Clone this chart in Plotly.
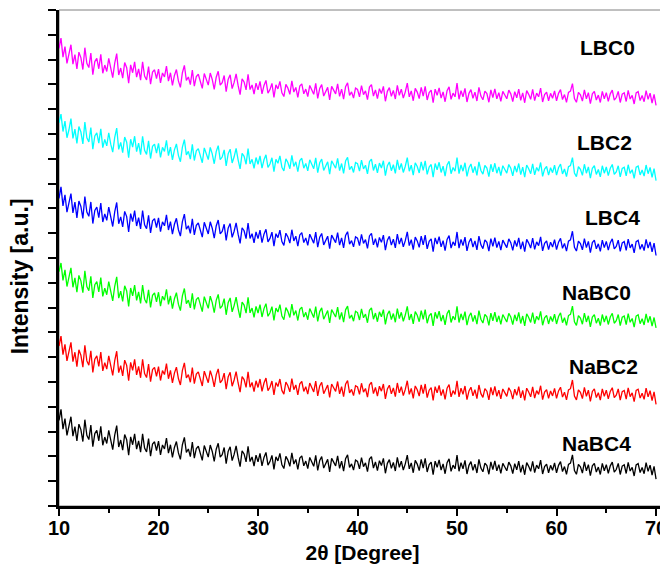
import numpy as np
import plotly.graph_objects as go

# 2-theta grid (degrees), 0.2 degree step
two_theta = np.round(np.arange(10.0, 70.0001, 0.2), 1)

LBC0 = [
    18.45, 18.87, 18.10, 18.52, 17.85, 18.17, 18.60, 17.82, 18.20, 17.62, 18.30, 18.08, 17.60, 18.48, 17.85, 17.68, 18.26, 17.39, 17.92, 18.05, 17.63, 18.21, 17.45, 17.78, 17.52,
    18.05, 17.59, 17.27, 17.86, 18.24, 17.38, 17.66, 17.25, 17.88, 17.67, 17.05, 17.79, 17.47, 17.91, 17.29, 17.63, 17.17, 17.91, 17.34, 17.18, 17.72, 17.01, 17.50, 17.59, 17.23,
    17.62, 17.06, 17.46, 17.30, 17.74, 17.13, 17.47, 16.96, 17.36, 17.60, 17.14, 16.88, 17.47, 17.77, 17.16, 17.30, 16.99, 17.58, 16.93, 17.32, 17.41, 17.10, 16.84, 17.44, 17.18,
    16.97, 17.46, 17.20, 16.80, 17.29, 17.53, 16.97, 17.07, 17.36, 16.71, 17.20, 17.39, 16.83, 17.08, 17.42, 16.96, 16.59, 17.22, 17.10, 16.78, 17.41, 16.79, 16.98, 16.61, 17.05,
    16.78, 17.12, 16.62, 16.96, 17.16, 16.65, 16.79, 17.04, 16.48, 16.98, 16.82, 17.12, 16.66, 16.51, 17.00, 16.85, 16.60, 17.14, 16.69, 16.88, 16.48, 16.93, 17.02, 16.62, 16.81,
    16.51, 16.96, 16.80, 16.60, 17.04, 16.44, 16.84, 16.99, 16.53, 16.68, 16.88, 16.38, 16.92, 16.77, 16.62, 17.02, 16.52, 16.81, 16.41, 16.91, 17.06, 16.56, 16.70, 16.45, 16.85,
    16.80, 16.50, 16.95, 16.59, 16.74, 16.39, 16.89, 16.99, 16.53, 16.78, 16.43, 16.83, 16.63, 16.92, 16.32, 16.72, 16.87, 16.52, 16.76, 16.41, 16.96, 16.56, 16.81, 16.45, 16.70,
    17.05, 16.50, 16.74, 16.34, 16.84, 16.69, 16.43, 16.88, 16.53, 16.92, 16.37, 16.67, 16.77, 16.26, 16.81, 16.56, 16.86, 16.45, 16.70, 16.30, 16.75, 16.90, 16.40, 16.65, 16.50,
    17.05, 16.40, 16.75, 16.50, 16.84, 16.29, 16.64, 16.79, 16.44, 16.69, 16.33, 16.88, 16.53, 16.38, 16.73, 16.63, 16.28, 16.78, 16.47, 16.82, 16.42, 16.67, 16.32, 16.72, 16.57,
    16.42, 16.77, 16.62, 16.31, 16.71, 16.46, 16.81, 16.36, 16.66, 16.26, 16.75, 16.60, 16.40, 16.80, 16.35, 16.65, 16.50, 16.85, 16.29, 16.59, 16.69, 16.34, 16.64, 16.44, 16.74,
    16.34, 16.64, 16.79, 16.39, 16.59, 16.28, 16.68, 16.73, 17.03, 16.43, 16.28, 16.68, 16.58, 16.33, 16.78, 16.42, 16.67, 16.22, 16.62, 16.72, 16.37, 16.57, 16.27, 16.72, 16.42,
    16.67, 16.32, 16.62, 16.77, 16.37, 16.47, 16.72, 16.27, 16.61, 16.66, 16.31, 16.76, 16.41, 16.56, 16.21, 16.66, 16.71, 16.35, 16.55, 16.30, 16.75, 16.40, 16.65, 16.25, 16.60,
    16.15,
]

LBC2 = [
    15.45, 15.80, 15.10, 15.52, 14.85, 15.17, 15.62, 14.82, 15.20, 14.62, 15.30, 15.08, 14.60, 15.48, 14.85, 14.68, 15.26, 14.39, 14.92, 15.05, 14.63, 15.21, 14.45, 14.78, 14.52,
    15.05, 14.59, 14.27, 14.86, 15.24, 14.38, 14.66, 14.25, 14.88, 14.67, 14.05, 14.79, 14.47, 14.91, 14.29, 14.63, 14.17, 14.91, 14.34, 14.18, 14.72, 14.01, 14.50, 14.59, 14.23,
    14.62, 14.06, 14.46, 14.30, 14.74, 14.13, 14.47, 13.96, 14.36, 14.60, 14.14, 13.88, 14.47, 14.77, 14.16, 14.30, 13.99, 14.58, 13.93, 14.32, 14.41, 14.10, 13.84, 14.44, 14.18,
    13.97, 14.46, 14.20, 13.80, 14.29, 14.53, 13.97, 14.07, 14.36, 13.71, 14.20, 14.39, 13.83, 14.08, 14.42, 13.96, 13.59, 14.22, 14.10, 13.78, 14.41, 13.79, 13.98, 13.61, 14.05,
    13.78, 14.12, 13.62, 13.96, 14.16, 13.65, 13.79, 14.04, 13.48, 13.98, 13.82, 14.12, 13.66, 13.51, 14.00, 13.85, 13.60, 14.14, 13.69, 13.88, 13.48, 13.93, 14.02, 13.62, 13.81,
    13.51, 13.96, 13.80, 13.60, 14.04, 13.44, 13.84, 13.99, 13.53, 13.68, 13.88, 13.38, 13.92, 13.77, 13.62, 14.02, 13.52, 13.81, 13.41, 13.91, 14.06, 13.56, 13.70, 13.45, 13.85,
    13.80, 13.50, 13.95, 13.59, 13.74, 13.39, 13.89, 13.99, 13.53, 13.78, 13.43, 13.83, 13.63, 13.92, 13.32, 13.72, 13.87, 13.52, 13.76, 13.41, 13.96, 13.56, 13.81, 13.45, 13.70,
    14.05, 13.50, 13.74, 13.34, 13.84, 13.69, 13.43, 13.88, 13.53, 13.92, 13.37, 13.67, 13.77, 13.26, 13.81, 13.56, 13.86, 13.45, 13.70, 13.30, 13.75, 13.90, 13.40, 13.65, 13.50,
    14.05, 13.40, 13.75, 13.50, 13.84, 13.29, 13.64, 13.79, 13.44, 13.69, 13.33, 13.88, 13.53, 13.38, 13.73, 13.63, 13.28, 13.78, 13.47, 13.82, 13.42, 13.67, 13.32, 13.72, 13.57,
    13.42, 13.77, 13.62, 13.31, 13.71, 13.46, 13.81, 13.36, 13.66, 13.26, 13.75, 13.60, 13.40, 13.80, 13.35, 13.65, 13.50, 13.85, 13.29, 13.59, 13.69, 13.34, 13.64, 13.44, 13.74,
    13.34, 13.64, 13.79, 13.39, 13.59, 13.28, 13.68, 13.73, 14.05, 13.43, 13.28, 13.68, 13.58, 13.33, 13.78, 13.42, 13.67, 13.22, 13.62, 13.72, 13.37, 13.57, 13.27, 13.72, 13.42,
    13.67, 13.32, 13.62, 13.77, 13.37, 13.47, 13.72, 13.27, 13.61, 13.66, 13.31, 13.76, 13.41, 13.56, 13.21, 13.66, 13.71, 13.35, 13.55, 13.30, 13.75, 13.40, 13.65, 13.25, 13.60,
    13.12,
]

LBC4 = [
    12.40, 12.87, 12.10, 12.55, 11.85, 12.17, 12.60, 11.82, 12.25, 11.62, 12.30, 12.08, 11.60, 12.48, 11.85, 11.68, 12.26, 11.39, 11.92, 12.05, 11.63, 12.21, 11.45, 11.78, 11.52,
    12.05, 11.59, 11.27, 11.86, 12.24, 11.38, 11.66, 11.25, 11.88, 11.67, 11.05, 11.79, 11.47, 11.91, 11.29, 11.63, 11.17, 11.91, 11.34, 11.18, 11.72, 11.01, 11.50, 11.59, 11.23,
    11.62, 11.06, 11.46, 11.30, 11.74, 11.13, 11.47, 10.96, 11.36, 11.60, 11.14, 10.88, 11.47, 11.77, 11.16, 11.30, 10.99, 11.58, 10.93, 11.32, 11.41, 11.10, 10.84, 11.44, 11.18,
    10.97, 11.46, 11.20, 10.80, 11.29, 11.53, 10.97, 11.07, 11.36, 10.71, 11.20, 11.39, 10.83, 11.08, 11.42, 10.96, 10.59, 11.22, 11.10, 10.78, 11.41, 10.79, 10.98, 10.61, 11.05,
    10.78, 11.12, 10.62, 10.96, 11.16, 10.65, 10.79, 11.04, 10.48, 10.98, 10.82, 11.12, 10.66, 10.51, 11.00, 10.85, 10.60, 11.14, 10.69, 10.88, 10.48, 10.93, 11.02, 10.62, 10.81,
    10.51, 10.96, 10.80, 10.60, 11.04, 10.44, 10.84, 10.99, 10.53, 10.68, 10.88, 10.38, 10.92, 10.77, 10.62, 11.02, 10.52, 10.81, 10.41, 10.91, 11.06, 10.56, 10.70, 10.45, 10.85,
    10.80, 10.50, 10.95, 10.59, 10.74, 10.39, 10.89, 10.99, 10.53, 10.78, 10.43, 10.83, 10.63, 10.92, 10.32, 10.72, 10.87, 10.52, 10.76, 10.41, 10.96, 10.56, 10.81, 10.45, 10.70,
    11.05, 10.50, 10.74, 10.34, 10.84, 10.69, 10.43, 10.88, 10.53, 10.92, 10.37, 10.67, 10.77, 10.26, 10.81, 10.56, 10.86, 10.45, 10.70, 10.30, 10.75, 10.90, 10.40, 10.65, 10.50,
    11.05, 10.40, 10.75, 10.50, 10.84, 10.29, 10.64, 10.79, 10.44, 10.69, 10.33, 10.88, 10.53, 10.38, 10.73, 10.63, 10.28, 10.78, 10.47, 10.82, 10.42, 10.67, 10.32, 10.72, 10.57,
    10.42, 10.77, 10.62, 10.31, 10.71, 10.46, 10.81, 10.36, 10.66, 10.26, 10.75, 10.60, 10.40, 10.80, 10.35, 10.65, 10.50, 10.85, 10.29, 10.59, 10.69, 10.34, 10.64, 10.44, 10.74,
    10.34, 10.64, 10.79, 10.39, 10.59, 10.28, 10.68, 10.73, 11.08, 10.43, 10.28, 10.68, 10.58, 10.33, 10.78, 10.42, 10.67, 10.22, 10.62, 10.72, 10.37, 10.57, 10.27, 10.72, 10.42,
    10.67, 10.32, 10.62, 10.77, 10.37, 10.47, 10.72, 10.27, 10.61, 10.66, 10.31, 10.76, 10.41, 10.56, 10.21, 10.66, 10.71, 10.35, 10.55, 10.30, 10.75, 10.40, 10.65, 10.25, 10.60,
    10.10,
]

NaBC0 = [
    9.45, 9.80, 9.10, 9.52, 8.85, 9.17, 9.60, 8.82, 9.20, 8.62, 9.30, 9.08, 8.60, 9.48, 8.85, 8.68, 9.26, 8.39, 8.92, 9.05, 8.63, 9.21, 8.45, 8.78, 8.52,
    9.05, 8.59, 8.27, 8.86, 9.24, 8.38, 8.66, 8.25, 8.88, 8.67, 8.05, 8.79, 8.47, 8.91, 8.29, 8.63, 8.17, 8.91, 8.34, 8.18, 8.72, 8.01, 8.50, 8.59, 8.23,
    8.62, 8.06, 8.46, 8.30, 8.74, 8.13, 8.47, 7.96, 8.36, 8.60, 8.14, 7.88, 8.47, 8.77, 8.16, 8.30, 7.99, 8.58, 7.93, 8.32, 8.41, 8.10, 7.84, 8.44, 8.18,
    7.97, 8.46, 8.20, 7.80, 8.29, 8.53, 7.97, 8.07, 8.36, 7.71, 8.20, 8.39, 7.83, 8.08, 8.42, 7.96, 7.59, 8.22, 8.10, 7.78, 8.41, 7.79, 7.98, 7.61, 8.05,
    7.78, 8.12, 7.62, 7.96, 8.16, 7.65, 7.79, 8.04, 7.48, 7.98, 7.82, 8.12, 7.66, 7.51, 8.00, 7.85, 7.60, 8.14, 7.69, 7.88, 7.48, 7.93, 8.02, 7.62, 7.81,
    7.51, 7.96, 7.80, 7.60, 8.04, 7.44, 7.84, 7.99, 7.53, 7.68, 7.88, 7.38, 7.92, 7.77, 7.62, 8.02, 7.52, 7.81, 7.41, 7.91, 8.06, 7.56, 7.70, 7.45, 7.85,
    7.80, 7.50, 7.95, 7.59, 7.74, 7.39, 7.89, 7.99, 7.53, 7.78, 7.43, 7.83, 7.63, 7.92, 7.32, 7.72, 7.87, 7.52, 7.76, 7.41, 7.96, 7.56, 7.81, 7.45, 7.70,
    8.05, 7.50, 7.74, 7.34, 7.84, 7.69, 7.43, 7.88, 7.53, 7.92, 7.37, 7.67, 7.77, 7.26, 7.81, 7.56, 7.86, 7.45, 7.70, 7.30, 7.75, 7.90, 7.40, 7.65, 7.50,
    8.05, 7.40, 7.75, 7.50, 7.84, 7.29, 7.64, 7.79, 7.44, 7.69, 7.33, 7.88, 7.53, 7.38, 7.73, 7.63, 7.28, 7.78, 7.47, 7.82, 7.42, 7.67, 7.32, 7.72, 7.57,
    7.42, 7.77, 7.62, 7.31, 7.71, 7.46, 7.81, 7.36, 7.66, 7.26, 7.75, 7.60, 7.40, 7.80, 7.35, 7.65, 7.50, 7.85, 7.29, 7.59, 7.69, 7.34, 7.64, 7.44, 7.74,
    7.34, 7.64, 7.79, 7.39, 7.59, 7.28, 7.68, 7.73, 8.06, 7.43, 7.28, 7.68, 7.58, 7.33, 7.78, 7.42, 7.67, 7.22, 7.62, 7.72, 7.37, 7.57, 7.27, 7.72, 7.42,
    7.67, 7.32, 7.62, 7.77, 7.37, 7.47, 7.72, 7.27, 7.61, 7.66, 7.31, 7.76, 7.41, 7.56, 7.21, 7.66, 7.71, 7.35, 7.55, 7.30, 7.75, 7.40, 7.65, 7.25, 7.60,
    7.18,
]

NaBC2 = [
    6.45, 6.85, 6.10, 6.52, 5.85, 6.17, 6.60, 5.82, 6.20, 5.62, 6.30, 6.08, 5.60, 6.48, 5.85, 5.68, 6.26, 5.39, 5.92, 6.05, 5.63, 6.21, 5.45, 5.78, 5.52,
    6.05, 5.59, 5.27, 5.86, 6.24, 5.38, 5.66, 5.25, 5.88, 5.67, 5.05, 5.79, 5.47, 5.91, 5.29, 5.63, 5.17, 5.91, 5.34, 5.18, 5.72, 5.01, 5.50, 5.59, 5.23,
    5.62, 5.06, 5.46, 5.30, 5.74, 5.13, 5.47, 4.96, 5.36, 5.60, 5.14, 4.88, 5.47, 5.77, 5.16, 5.30, 4.99, 5.58, 4.93, 5.32, 5.41, 5.10, 4.84, 5.44, 5.18,
    4.97, 5.46, 5.20, 4.80, 5.29, 5.53, 4.97, 5.07, 5.36, 4.71, 5.20, 5.39, 4.83, 5.08, 5.42, 4.96, 4.59, 5.22, 5.10, 4.78, 5.41, 4.79, 4.98, 4.61, 5.05,
    4.78, 5.12, 4.62, 4.96, 5.16, 4.65, 4.79, 5.04, 4.48, 4.98, 4.82, 5.12, 4.66, 4.51, 5.00, 4.85, 4.60, 5.14, 4.69, 4.88, 4.48, 4.93, 5.02, 4.62, 4.81,
    4.51, 4.96, 4.80, 4.60, 5.04, 4.44, 4.84, 4.99, 4.53, 4.68, 4.88, 4.38, 4.92, 4.77, 4.62, 5.02, 4.52, 4.81, 4.41, 4.91, 5.06, 4.56, 4.70, 4.45, 4.85,
    4.80, 4.50, 4.95, 4.59, 4.74, 4.39, 4.89, 4.99, 4.53, 4.78, 4.43, 4.83, 4.63, 4.92, 4.32, 4.72, 4.87, 4.52, 4.76, 4.41, 4.96, 4.56, 4.81, 4.45, 4.70,
    5.05, 4.50, 4.74, 4.34, 4.84, 4.69, 4.43, 4.88, 4.53, 4.92, 4.37, 4.67, 4.77, 4.26, 4.81, 4.56, 4.86, 4.45, 4.70, 4.30, 4.75, 4.90, 4.40, 4.65, 4.50,
    5.05, 4.40, 4.75, 4.50, 4.84, 4.29, 4.64, 4.79, 4.44, 4.69, 4.33, 4.88, 4.53, 4.38, 4.73, 4.63, 4.28, 4.78, 4.47, 4.82, 4.42, 4.67, 4.32, 4.72, 4.57,
    4.42, 4.77, 4.62, 4.31, 4.71, 4.46, 4.81, 4.36, 4.66, 4.26, 4.75, 4.60, 4.40, 4.80, 4.35, 4.65, 4.50, 4.85, 4.29, 4.59, 4.69, 4.34, 4.64, 4.44, 4.74,
    4.34, 4.64, 4.79, 4.39, 4.59, 4.28, 4.68, 4.73, 5.08, 4.43, 4.28, 4.68, 4.58, 4.33, 4.78, 4.42, 4.67, 4.22, 4.62, 4.72, 4.37, 4.57, 4.27, 4.72, 4.42,
    4.67, 4.32, 4.62, 4.77, 4.37, 4.47, 4.72, 4.27, 4.61, 4.66, 4.31, 4.76, 4.41, 4.56, 4.21, 4.66, 4.71, 4.35, 4.55, 4.30, 4.75, 4.40, 4.65, 4.25, 4.60,
    4.10,
]

NaBC4 = [
    3.45, 3.90, 3.10, 3.52, 2.85, 3.17, 3.60, 2.82, 3.20, 2.62, 3.30, 3.08, 2.60, 3.48, 2.85, 2.68, 3.26, 2.39, 2.92, 3.05, 2.63, 3.21, 2.45, 2.78, 2.52,
    3.05, 2.59, 2.27, 2.86, 3.24, 2.38, 2.66, 2.25, 2.88, 2.67, 2.05, 2.79, 2.47, 2.91, 2.29, 2.63, 2.17, 2.91, 2.34, 2.18, 2.72, 2.01, 2.50, 2.59, 2.23,
    2.62, 2.06, 2.46, 2.30, 2.74, 2.13, 2.47, 1.96, 2.36, 2.60, 2.14, 1.88, 2.47, 2.77, 2.16, 2.30, 1.99, 2.58, 1.93, 2.32, 2.41, 2.10, 1.84, 2.44, 2.18,
    1.97, 2.46, 2.20, 1.80, 2.29, 2.53, 1.97, 2.07, 2.36, 1.71, 2.20, 2.39, 1.83, 2.08, 2.42, 1.96, 1.59, 2.22, 2.10, 1.78, 2.41, 1.79, 1.98, 1.61, 2.05,
    1.78, 2.12, 1.62, 1.96, 2.16, 1.65, 1.79, 2.04, 1.48, 1.98, 1.82, 2.12, 1.66, 1.51, 2.00, 1.85, 1.60, 2.14, 1.69, 1.88, 1.48, 1.93, 2.02, 1.62, 1.81,
    1.51, 1.96, 1.80, 1.60, 2.04, 1.44, 1.84, 1.99, 1.53, 1.68, 1.88, 1.38, 1.92, 1.77, 1.62, 2.02, 1.52, 1.81, 1.41, 1.91, 2.06, 1.56, 1.70, 1.45, 1.85,
    1.80, 1.50, 1.95, 1.59, 1.74, 1.39, 1.89, 1.99, 1.53, 1.78, 1.43, 1.83, 1.63, 1.92, 1.32, 1.72, 1.87, 1.52, 1.76, 1.41, 1.96, 1.56, 1.81, 1.45, 1.70,
    2.05, 1.50, 1.74, 1.34, 1.84, 1.69, 1.43, 1.88, 1.53, 1.92, 1.37, 1.67, 1.77, 1.26, 1.81, 1.56, 1.86, 1.45, 1.70, 1.30, 1.75, 1.90, 1.40, 1.65, 1.50,
    2.05, 1.40, 1.75, 1.50, 1.84, 1.29, 1.64, 1.79, 1.44, 1.69, 1.33, 1.88, 1.53, 1.38, 1.73, 1.63, 1.28, 1.78, 1.47, 1.82, 1.42, 1.67, 1.32, 1.72, 1.57,
    1.42, 1.77, 1.62, 1.31, 1.71, 1.46, 1.81, 1.36, 1.66, 1.26, 1.75, 1.60, 1.40, 1.80, 1.35, 1.65, 1.50, 1.85, 1.29, 1.59, 1.69, 1.34, 1.64, 1.44, 1.74,
    1.34, 1.64, 1.79, 1.39, 1.59, 1.28, 1.68, 1.73, 2.06, 1.43, 1.28, 1.68, 1.58, 1.33, 1.78, 1.42, 1.67, 1.22, 1.62, 1.72, 1.37, 1.57, 1.27, 1.72, 1.42,
    1.67, 1.32, 1.62, 1.77, 1.37, 1.47, 1.72, 1.27, 1.61, 1.66, 1.31, 1.76, 1.41, 1.56, 1.21, 1.66, 1.71, 1.35, 1.55, 1.30, 1.75, 1.40, 1.65, 1.25, 1.60,
    1.08,
]

series_names = ["LBC0", "LBC2", "LBC4", "NaBC0", "NaBC2", "NaBC4"]
series_values = [LBC0, LBC2, LBC4, NaBC0, NaBC2, NaBC4]
series_colors = ["#FF00FF", "#00FFFF", "#0000FF", "#00FF00", "#FF0000", "#000000"]
label_x = [65.1, 64.8, 65.6, 64.0, 64.7, 64.0]
label_y = [18.48, 14.67, 11.64, 8.61, 5.61, 2.54]

x_ticks = [10, 20, 30, 40, 50, 60, 70]

FONT = "Liberation Sans, Arial, sans-serif"

fig = go.Figure()
for name, vals, col in zip(series_names, series_values, series_colors):
    fig.add_trace(go.Scatter(x=two_theta, y=vals, mode="lines", name=name,
                             line=dict(color=col, width=1.3), showlegend=False))

for name, lx, ly in zip(series_names, label_x, label_y):
    fig.add_annotation(x=lx, y=ly, text="<b>%s</b>" % name, showarrow=False,
                       font=dict(family=FONT, size=21, color="black"),
                       xanchor="center", yanchor="middle")

# y-axis title placed as rotated text left of the axis
fig.add_annotation(xref="paper", yref="paper", x=0, y=0.463, xshift=-39,
                   text="<b>Intensity [a.u.]</b>", textangle=-90, showarrow=False,
                   font=dict(family=FONT, size=23, color="black"),
                   xanchor="center", yanchor="middle")

# gray frame (top/right)
fig.add_shape(type="rect", xref="paper", yref="paper", x0=0, y0=0, x1=1, y1=1,
              line=dict(color="#808080", width=1), layer="below")

xaxis_cfg = dict(
    range=[10, 71], tickvals=x_ticks, ticktext=["<b>%d</b>" % t for t in x_ticks],
    ticks="outside", ticklen=7, tickwidth=1.5, tickcolor="black",
    minor=dict(tickvals=[15, 25, 35, 45, 55, 65], ticks="outside", ticklen=4,
               tickwidth=1.5, tickcolor="black"),
    showline=True, linecolor="black", linewidth=2.5,
    showgrid=False, zeroline=False, automargin=False,
    tickfont=dict(family=FONT, size=20, color="black"),
    title=dict(text="<b>2θ [Degree]</b>", font=dict(family=FONT, size=21, color="black"),
               standoff=8),
)

# The page body adds an 8px offset, so the figure is sized 8px smaller to fill the window.
fig.update_layout(
    width=660, height=556,
    margin=dict(l=51, r=2, t=2, b=58),
    paper_bgcolor="white", plot_bgcolor="white",
    font=dict(family=FONT, color="black"),
    xaxis=xaxis_cfg,
    yaxis=dict(
        range=[0, 20], tickmode="linear", tick0=0, dtick=1,
        ticks="outside", ticklen=8, tickwidth=1.5, tickcolor="black",
        showticklabels=False,
        showline=True, linecolor="black", linewidth=2.5,
        showgrid=False, zeroline=False, automargin=False,
    ),
)
try:
    fig.update_xaxes(ticklabelstandoff=-5)
except Exception:
    fig.update_xaxes(title_standoff=3)

fig.write_html("out.html")
